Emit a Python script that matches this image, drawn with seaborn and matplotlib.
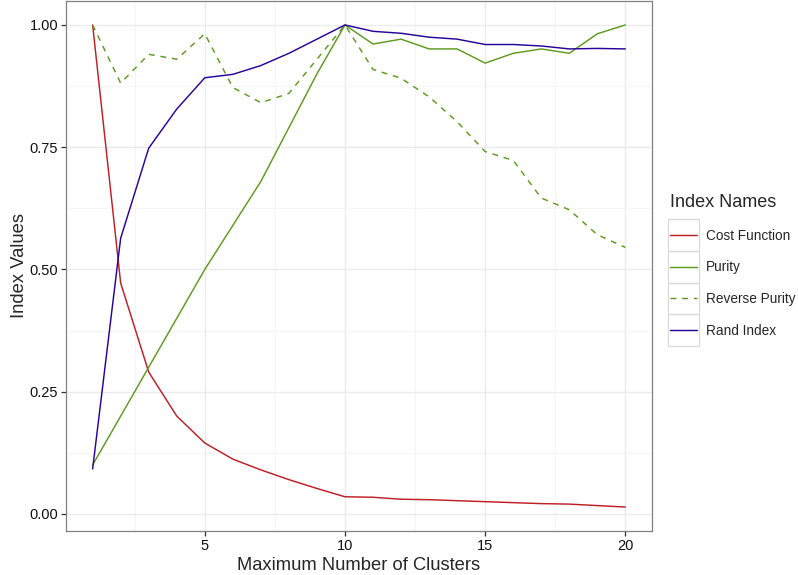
import pandas as pd
import matplotlib
matplotlib.use("Agg")
import matplotlib.pyplot as plt
from matplotlib.patches import Rectangle
from matplotlib.ticker import MultipleLocator
import seaborn as sns

# values
clusters = list(range(1, 21))
cost_function = [1.0, 0.472, 0.29, 0.20, 0.145, 0.112, 0.090, 0.070, 0.052, 0.035,
                 0.034, 0.030, 0.029, 0.027, 0.025, 0.023, 0.021, 0.020, 0.017, 0.014]
purity = [0.10, 0.20, 0.30, 0.40, 0.50, 0.59, 0.68, 0.79, 0.90, 1.0,
          0.961, 0.971, 0.951, 0.951, 0.922, 0.942, 0.951, 0.942, 0.982, 1.0]
reverse_purity = [1.0, 0.881, 0.940, 0.930, 0.982, 0.872, 0.841, 0.860, 0.93, 1.0,
                  0.909, 0.891, 0.853, 0.802, 0.741, 0.723, 0.646, 0.622, 0.571, 0.545]
rand_index = [0.092, 0.564, 0.748, 0.828, 0.892, 0.899, 0.917, 0.942, 0.971, 1.0,
              0.987, 0.983, 0.975, 0.971, 0.960, 0.960, 0.957, 0.951, 0.952, 0.951]
index_names = ["Cost Function", "Purity", "Reverse Purity", "Rand Index"]

colors = {"Cost Function": "#BF1E24", "Purity": "#5E9A1E",
          "Reverse Purity": "#5E9A1E", "Rand Index": "#27039B"}
dashes = {"Cost Function": "", "Purity": "", "Reverse Purity": (4, 4), "Rand Index": ""}

df = pd.concat([
    pd.DataFrame({"clusters": clusters, "value": vals, "Index Names": name})
    for name, vals in zip(index_names, [cost_function, purity, reverse_purity, rand_index])
])

sns.set_style("white")
plt.rcParams["font.family"] = ["Liberation Sans", "DejaVu Sans"]

fig = plt.figure(figsize=(7.98, 5.75), dpi=100)
ax = fig.add_axes([66 / 798, 1 - 531 / 575, 586 / 798, 530 / 575])

sns.lineplot(data=df, x="clusters", y="value", hue="Index Names", style="Index Names",
             hue_order=index_names, style_order=index_names,
             palette=colors, dashes=dashes, linewidth=1.05, ax=ax)

ax.set_xlim(0.05, 20.95)
ax.set_ylim(0.014 - 0.049, 1.049)
ax.xaxis.set_major_locator(MultipleLocator(5))
ax.xaxis.set_minor_locator(MultipleLocator(2.5))
ax.yaxis.set_major_locator(MultipleLocator(0.25))
ax.yaxis.set_minor_locator(MultipleLocator(0.125))
ax.yaxis.set_major_formatter(plt.FuncFormatter(lambda v, p: f"{v:.2f}"))
ax.set_axisbelow(True)
ax.grid(which="major", color="#EBEBEB", linewidth=1.0)
ax.grid(which="minor", color="#F5F5F5", linewidth=0.8)
ax.tick_params(which="major", length=3.5, width=0.9, color="#333333",
               labelsize=10.5, labelcolor="#111111", pad=2, bottom=True, left=True)
ax.tick_params(which="minor", length=0)
for s in ax.spines.values():
    s.set_color("#808080")
    s.set_linewidth(0.9)

ax.set_xlabel("Maximum Number of Clusters", fontsize=13.2, labelpad=3)
ax.set_ylabel("Index Values", fontsize=13.2, labelpad=1)

handles, labels = ax.get_legend_handles_labels()
ax.get_legend().remove()
leg = ax.legend(handles, labels, title="Index Names", loc="center left",
                bbox_to_anchor=(1.031, 0.5), borderaxespad=0, borderpad=0,
                frameon=False, fontsize=9.8, title_fontsize=13,
                handlelength=2.0, handletextpad=0.6, labelspacing=1.3,
                alignment="left")

# grey key boxes like the ggplot legend
fig.canvas.draw()
W, H = fig.bbox.width, fig.bbox.height
lines = leg.get_lines()
ys = [l.get_window_extent().y0 for l in lines]
row_h = abs(ys[0] - ys[1])
for l in lines:
    bb = l.get_window_extent()
    cy = (bb.y0 + bb.y1) / 2
    x0 = bb.x0 - 2
    w = bb.width + 4
    fig.patches.append(Rectangle((x0 / W, (cy - row_h / 2) / H), w / W, row_h / H,
                                 transform=fig.transFigure, fill=False,
                                 edgecolor="#D9D9D9", linewidth=0.9))

fig.savefig("out.png", dpi=100)
